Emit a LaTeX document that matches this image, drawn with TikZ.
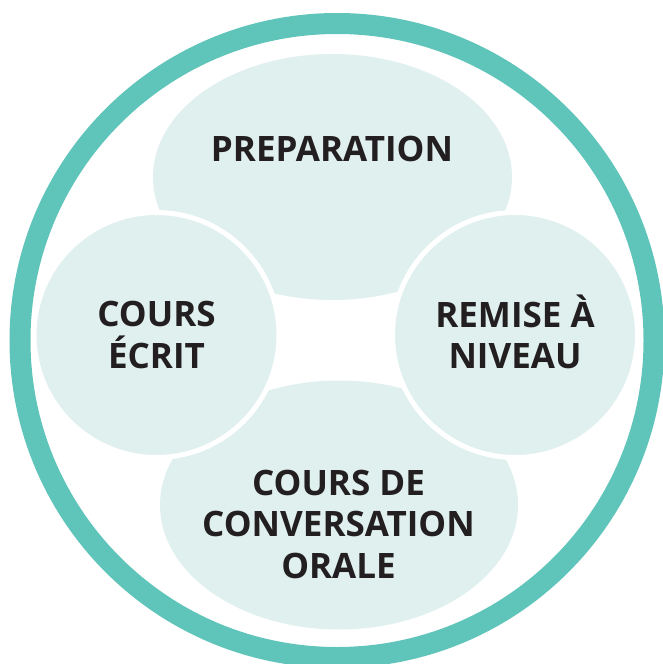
\documentclass[tikz,border=0pt]{standalone}
\usepackage{fontspec}
\setmainfont{Open Sans}
\usetikzlibrary{shapes.geometric}
\definecolor{ringteal}{HTML}{5FC4B9}
\definecolor{paleteal}{HTML}{DFF0EE}
\definecolor{inkdark}{HTML}{231F20}

\begin{document}
\begin{tikzpicture}[x=1pt,y=-1pt,
  blob/.style={fill=paleteal,inner sep=0pt,outer sep=0pt},
  txt/.style={font=\bfseries\fontsize{35}{41.5}\selectfont,text=inkdark,align=center,inner sep=0pt}]
\useasboundingbox (0,0) rectangle (662,664);
\draw[ringteal,line width=21pt](337,340.5) circle (317pt);
\node[blob,ellipse,minimum width=359pt,minimum height=246pt](prep) at (332.5,177){};
\node[blob,ellipse,minimum width=358pt,minimum height=249pt](oral) at (339,505){};
\foreach \name/\x in {ecrit/156.5,niveau/515}
{\node[blob,circle,draw=white,line width=5pt,minimum size=245pt](\name) at (\x,335){};}
\node[txt,anchor=base](preptext) at (332,161.7){PREPARATION};
\node[txt](ecrittext) at (156.5,335){COURS\\ÉCRIT};
\node[txt](niveautext) at (515,332){REMISE À\\NIVEAU};
\node[txt](oraltext) at (338.5,524){COURS DE\\CONVERSATION\\ORALE};
\end{tikzpicture}
\end{document}
